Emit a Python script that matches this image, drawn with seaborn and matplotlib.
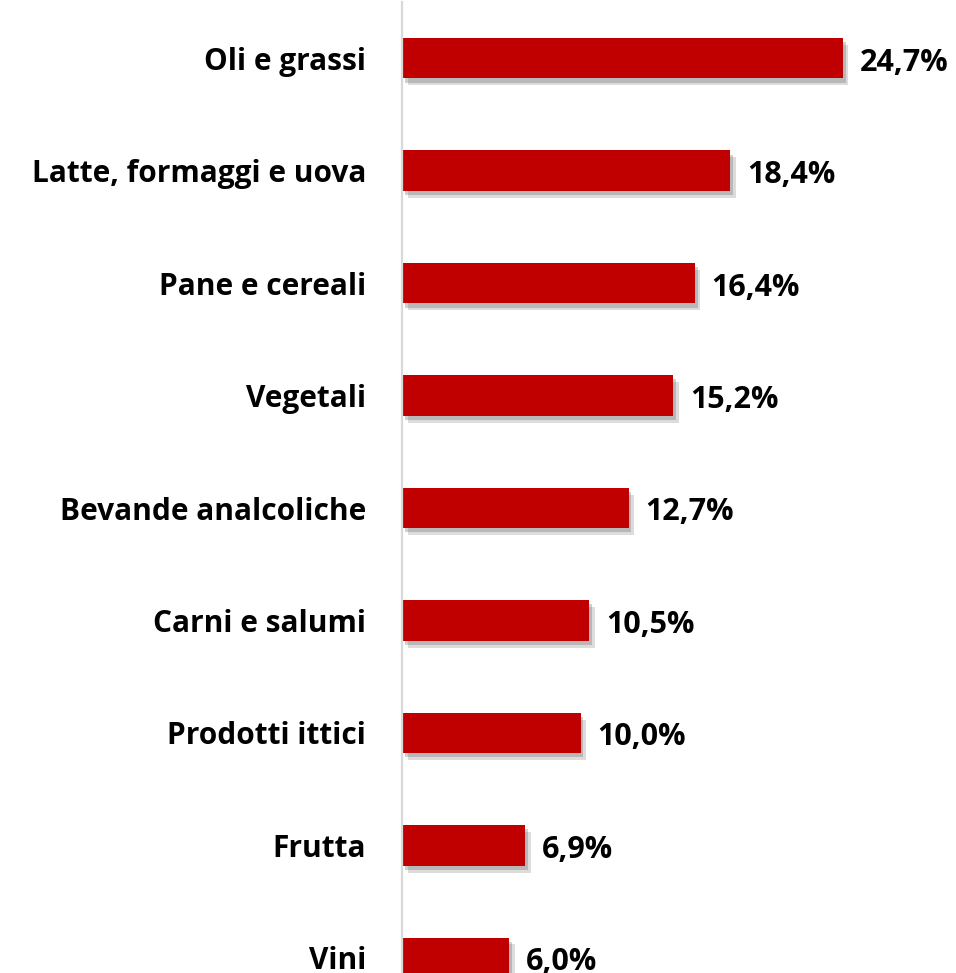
import matplotlib
matplotlib.use("Agg")
import matplotlib.pyplot as plt
import matplotlib.patheffects as pe
import seaborn as sns
import pandas as pd

categorie = ["Oli e grassi", "Latte, formaggi e uova", "Pane e cereali", "Vegetali",
             "Bevande analcoliche", "Carni e salumi", "Prodotti ittici", "Frutta", "Vini"]
quote = [24.7, 18.4, 16.4, 15.2, 12.7, 10.5, 10.0, 6.9, 6.0]

df = pd.DataFrame({"categoria": categorie, "quota": quote})

sns.set_style("white")
plt.rcParams["font.family"] = ["Open Sans", "DejaVu Sans"]

fig = plt.figure(figsize=(9.56, 9.73), dpi=100)
ax = fig.add_axes([402 / 956, -41 / 973, 554 / 956, 1012 / 973])

sns.barplot(data=df, x="quota", y="categoria", color="#C00000", width=0.36,
            saturation=1, ax=ax)

# soft drop shadow under the bars
shadow = [pe.SimplePatchShadow(offset=(4, -5), shadow_rgbFace="#777777", alpha=0.25),
          pe.SimplePatchShadow(offset=(2, -3), shadow_rgbFace="#666666", alpha=0.3),
          pe.Normal()]
for bar in ax.patches:
    bar.set_path_effects(shadow)
    bar.set_edgecolor("none")

for i, v in enumerate(quote):
    ax.text(v + 0.95, i + 0.04, f"{v:.1f}".replace(".", ",") + "%", va="center", ha="left",
            fontsize=22, fontweight="bold", color="black")

ax.set_xlim(0, 554 / 17.85)
ax.set_ylim(8.5, -0.5)
ax.set_xlabel("")
ax.set_ylabel("")
ax.set_xticks([])
ax.tick_params(axis="y", length=0, pad=26, labelsize=21.5, labelcolor="black")
for lab in ax.get_yticklabels():
    lab.set_fontweight("bold")

for s in ["top", "right", "bottom"]:
    ax.spines[s].set_visible(False)
ax.spines["left"].set_color("#D9D9D9")
ax.spines["left"].set_linewidth(1.6)

fig.savefig("out.png", dpi=100)
